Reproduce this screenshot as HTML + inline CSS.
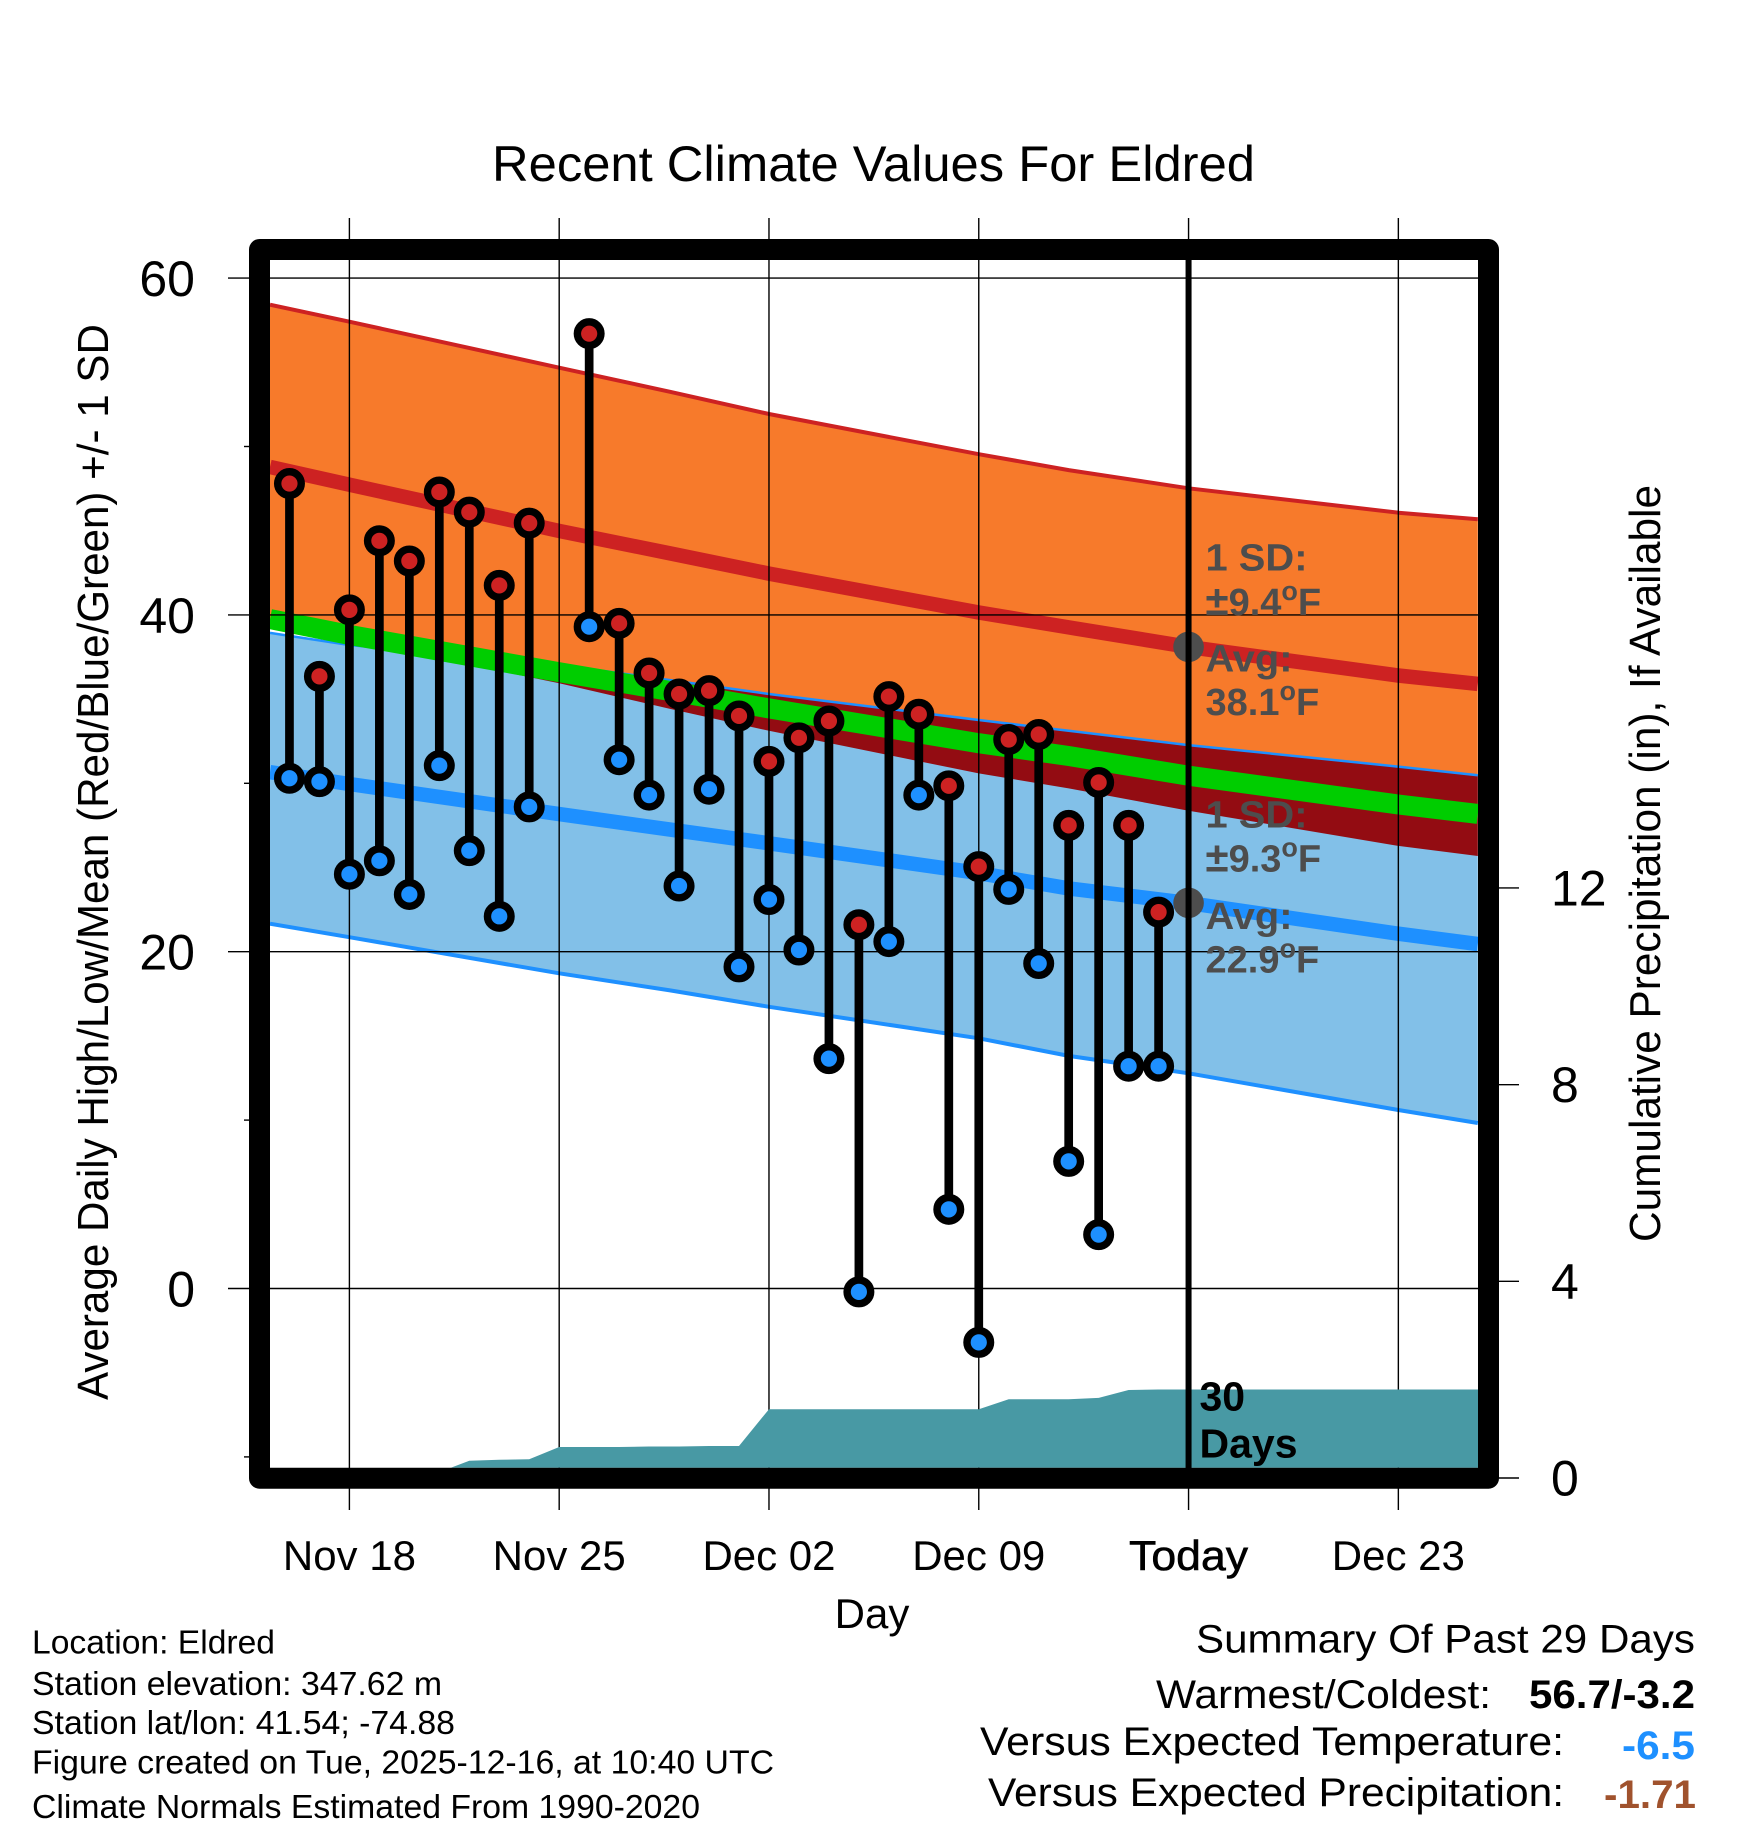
<!DOCTYPE html>
<html lang="en">
<head>
<meta charset="utf-8">
<title>Recent Climate Values For Eldred</title>
<style>
html,body{margin:0;padding:0;background:#fff;}
svg{display:block;font-family:"Liberation Sans",Arial,Helvetica,sans-serif;}
</style>
</head>
<body>
<svg id="chart" xmlns="http://www.w3.org/2000/svg" width="1748" height="1828" viewBox="0 0 1748 1828">
  <defs><clipPath id="plot-clip"><rect x="270" y="260" width="1208" height="1207.7"/></clipPath></defs>
  <rect x="0" y="0" width="1748" height="1828" fill="#fff"/>
  <g id="bands" clip-path="url(#plot-clip)"></g>
  <g id="grid"></g>
  <g id="precip" clip-path="url(#plot-clip)"></g>
  <g id="obs"></g>
  <g id="today"></g>

  <g font-weight="bold" font-size="38" fill="#4d4d4d">
    <text x="1205.5" y="570.7" textLength="102" lengthAdjust="spacingAndGlyphs">1 SD:</text>
    <text x="1205.5" y="615"><tspan font-size="42">±</tspan>9.4<tspan font-size="27" dy="-15">o</tspan><tspan dy="15">F</tspan></text>
    <text x="1205.5" y="671.7" textLength="87" lengthAdjust="spacingAndGlyphs">Avg:</text>
    <text x="1205.5" y="715">38.1<tspan font-size="27" dy="-15">o</tspan><tspan dy="15">F</tspan></text>
  </g>
  <g font-weight="bold" font-size="38" fill="#4d4d4d">
    <text x="1205.5" y="827.3" textLength="102" lengthAdjust="spacingAndGlyphs">1 SD:</text>
    <text x="1205.5" y="871.7"><tspan font-size="42">±</tspan>9.3<tspan font-size="27" dy="-15">o</tspan><tspan dy="15">F</tspan></text>
    <text x="1205.5" y="929" textLength="87" lengthAdjust="spacingAndGlyphs">Avg:</text>
    <text x="1205.5" y="972.3">22.9<tspan font-size="27" dy="-15">o</tspan><tspan dy="15">F</tspan></text>
  </g>
  <g font-weight="bold" font-size="41" fill="#000">
    <text x="1199.5" y="1410.7">30</text>
    <text x="1199.5" y="1457.7">Days</text>
  </g>

  <rect x="259.5" y="249.5" width="1229" height="1228.7" fill="none" stroke="#000" stroke-width="21" stroke-linejoin="round"/>

  <text x="873.5" y="181" font-size="50" text-anchor="middle" textLength="763" lengthAdjust="spacingAndGlyphs">Recent Climate Values For Eldred</text>
  <text transform="translate(108 862) rotate(-90)" font-size="44" text-anchor="middle" textLength="1076" lengthAdjust="spacingAndGlyphs">Average Daily High/Low/Mean (Red/Blue/Green) +/- 1 SD</text>
  <text transform="translate(1660 863.5) rotate(-90)" font-size="44" text-anchor="middle" textLength="757" lengthAdjust="spacingAndGlyphs">Cumulative Precipitation (in), If Available</text>
  <text x="872" y="1628" font-size="42" text-anchor="middle">Day</text>

  <g font-size="33">
    <text x="32" y="1653.5" textLength="243" lengthAdjust="spacingAndGlyphs">Location: Eldred</text>
    <text x="32" y="1695" textLength="410" lengthAdjust="spacingAndGlyphs">Station elevation: 347.62 m</text>
    <text x="32" y="1734" textLength="423" lengthAdjust="spacingAndGlyphs">Station lat/lon: 41.54; -74.88</text>
    <text x="32" y="1773.5" textLength="742" lengthAdjust="spacingAndGlyphs">Figure created on Tue, 2025-12-16, at 10:40 UTC</text>
    <text x="32" y="1818" textLength="668" lengthAdjust="spacingAndGlyphs">Climate Normals Estimated From 1990-2020</text>
  </g>

  <g font-size="40">
    <text x="1196" y="1652.5" textLength="499" lengthAdjust="spacingAndGlyphs">Summary Of Past 29 Days</text>
    <text x="1156" y="1708" textLength="335" lengthAdjust="spacingAndGlyphs">Warmest/Coldest:</text>
    <text x="1529" y="1708" font-weight="bold" textLength="166" lengthAdjust="spacingAndGlyphs">56.7/-3.2</text>
    <text x="980" y="1755" textLength="584" lengthAdjust="spacingAndGlyphs">Versus Expected Temperature:</text>
    <text x="1622" y="1759" font-weight="bold" fill="#1e90ff" textLength="73" lengthAdjust="spacingAndGlyphs">-6.5</text>
    <text x="988" y="1806" textLength="576" lengthAdjust="spacingAndGlyphs">Versus Expected Precipitation:</text>
    <text x="1604" y="1808" font-weight="bold" fill="#a0522d" textLength="92" lengthAdjust="spacingAndGlyphs">-1.71</text>
  </g>
</svg>

<script>
/* Climatology: days relative to Nov 18, values in deg F */
const normalDays = [-2.65, 0, 7, 10.7, 14, 21, 24, 28, 35, 37.65];
const highUpper = [58.42, 57.41, 54.68, 53.25, 51.93, 49.54, 48.60, 47.52, 46.07, 45.68];
const highMean  = [48.79, 47.73, 44.99, 43.65, 42.45, 40.14, 39.26, 38.10, 36.40, 35.90];
const highLower = [39.28, 38.51, 35.94, 34.42, 33.12, 30.59, 29.70, 28.37, 26.28, 25.68];
const lowUpper  = [38.93, 38.21, 37.03, 36.13, 35.30, 33.76, 33.12, 32.27, 30.99, 30.48];
const lowMean   = [30.66, 29.96, 28.17, 27.25, 26.44, 24.67, 23.76, 22.89, 21.07, 20.46];
const lowLower  = [21.66, 20.86, 18.72, 17.70, 16.73, 14.86, 13.81, 12.78, 10.60, 9.83];
const avgMean   = [39.75, 38.81, 36.60, 35.48, 34.45, 32.38, 31.62, 30.45, 28.74, 28.18];

/* Observations, one entry per day starting Nov 16 */
const obsDays = ['Nov 16','Nov 17','Nov 18','Nov 19','Nov 20','Nov 21','Nov 22','Nov 23','Nov 24','Nov 25','Nov 26','Nov 27','Nov 28','Nov 29','Nov 30','Dec 01','Dec 02','Dec 03','Dec 04','Dec 05','Dec 06','Dec 07','Dec 08','Dec 09','Dec 10','Dec 11','Dec 12','Dec 13','Dec 14','Dec 15'];
const obsHigh = [47.8,36.35,40.3,44.4,43.2,47.3,46.1,41.75,45.45,null,56.7,39.5,36.55,35.3,35.5,34.0,31.3,32.7,33.7,21.6,35.15,34.1,29.85,25.05,32.6,32.9,27.5,30.05,27.5,22.35];
const obsLow  = [30.3,30.1,24.6,25.4,23.4,31.05,26.0,22.1,28.6,null,39.3,31.4,29.3,23.9,29.65,19.1,23.1,20.1,13.65,-0.2,20.6,29.3,4.7,-3.2,23.7,19.3,7.55,3.2,13.2,13.2];
const obsPrecip = [0,0,0,0,0,0.12,0.35,0.37,0.38,0.63,0.63,0.63,0.64,0.64,0.65,0.65,1.40,1.40,1.40,1.40,1.40,1.40,1.40,1.40,1.60,1.60,1.60,1.63,1.79,1.80];

/* Axes */
const tempTicks = [60, 40, 20, 0];
const tempMinorTicks = [50, 30, 10, -10];
const precipTicks = [0, 4, 8, 12];
const xTickDays = [0, 7, 14, 21, 28, 35];
const xTickLabels = ['Nov 18', 'Nov 25', 'Dec 02', 'Dec 09', 'Today', 'Dec 23'];
const todayDay = 28;
const todayHigh = 38.1;
const todayLow = 22.9;

const SVGNS = 'http://www.w3.org/2000/svg';
function xDay(d) { return 349.4 + 29.97 * d; }
function yTemp(v) { return 1288.5 - 16.84 * v; }
function yPrecip(p) { return 1478 - 49.17 * p; }
function mk(tag, attrs, parent) {
  const n = document.createElementNS(SVGNS, tag);
  for (const k in attrs) n.setAttribute(k, attrs[k]);
  parent.appendChild(n);
  return n;
}
function linePts(vals) { return vals.map((v, i) => xDay(normalDays[i]).toFixed(1) + ',' + yTemp(v).toFixed(1)); }
function bandPts(up, lo) { return linePts(up).concat(linePts(lo).reverse()).join(' '); }

const bands = document.getElementById('bands');
const grid = document.getElementById('grid');
const precip = document.getElementById('precip');
const obs = document.getElementById('obs');
const today = document.getElementById('today');

/* Bands */
const highBand = mk('polygon', {points: bandPts(highUpper, highLower), fill: '#f77a2b'}, bands);



const lowBand = mk('polygon', {points: bandPts(lowUpper, lowLower), fill: '#82c0e8'}, bands);



/* Overlap of the two bands */
const overlapTop = [];
const overlapBottom = [];
normalDays.forEach((d, i) => {
  const diff = lowUpper[i] - highLower[i];
  if (diff > 0) {
    if (i > 0) {
      const prev = lowUpper[i - 1] - highLower[i - 1];
      if (prev <= 0) {
        const t = prev / (prev - diff);
        const cd = normalDays[i - 1] + t * (d - normalDays[i - 1]);
        const cv = highLower[i - 1] + t * (highLower[i] - highLower[i - 1]);
        overlapTop.push(xDay(cd).toFixed(1) + ',' + yTemp(cv).toFixed(1));
      }
    }
    overlapTop.push(xDay(d).toFixed(1) + ',' + yTemp(lowUpper[i]).toFixed(1));
    overlapBottom.push(xDay(d).toFixed(1) + ',' + yTemp(highLower[i]).toFixed(1));
  }
});
const overlap = mk('polygon', {points: overlapTop.concat(overlapBottom.reverse()).join(' '), fill: '#930c12'}, bands);



const highTopLine = mk('polyline', {points: linePts(highUpper).join(' '), fill: 'none', stroke: '#cd2222', 'stroke-width': 4}, bands);



const lowTopLine = mk('polyline', {points: linePts(lowUpper).join(' '), fill: 'none', stroke: '#1e90ff', 'stroke-width': 2.5}, bands);



const lowBottomLine = mk('polyline', {points: linePts(lowLower).join(' '), fill: 'none', stroke: '#1e90ff', 'stroke-width': 4}, bands);



const highMeanLine = mk('polyline', {points: linePts(highMean).join(' '), fill: 'none', stroke: '#cd2222', 'stroke-width': 14.5}, bands);



const lowMeanLine = mk('polyline', {points: linePts(lowMean).join(' '), fill: 'none', stroke: '#1e90ff', 'stroke-width': 14.5}, bands);



const avgMeanLine = mk('polyline', {points: linePts(avgMean).join(' '), fill: 'none', stroke: '#00cd00', 'stroke-width': 20}, bands);



/* Grid and ticks */
tempTicks.forEach(v => {
  const g = mk('line', {x1: 228, x2: 1478, y1: yTemp(v), y2: yTemp(v), stroke: '#000', 'stroke-width': 1.4}, grid);
  
  
  const t = mk('text', {x: 195, y: yTemp(v) + 18, 'font-size': 50, 'text-anchor': 'end'}, grid);
  
  
  t.textContent = v;
});
tempMinorTicks.forEach(v => {
  const m = mk('line', {x1: 244, x2: 250, y1: yTemp(v), y2: yTemp(v), stroke: '#000', 'stroke-width': 1.4}, grid);
  
  
});
xTickDays.forEach((d, i) => {
  const g = mk('line', {x1: xDay(d), x2: xDay(d), y1: 218, y2: 1510, stroke: '#000', 'stroke-width': 1.4}, grid);
  
  
  const t = mk('text', {x: xDay(d), y: 1570, 'font-size': 42, 'text-anchor': 'middle'}, grid);
  
  
  if (d === todayDay) {
    t.setAttribute('stroke', '#000');
    t.setAttribute('stroke-width', '0.6');
    t.setAttribute('textLength', '119');
    t.setAttribute('lengthAdjust', 'spacingAndGlyphs');
  }
  t.textContent = xTickLabels[i];
});
precipTicks.forEach(p => {
  const k = mk('line', {x1: 1499, x2: 1519, y1: yPrecip(p), y2: yPrecip(p), stroke: '#000', 'stroke-width': 1.4}, grid);
  
  
  const t = mk('text', {x: 1551, y: yPrecip(p) + 17.5, 'font-size': 50}, grid);
  
  
  t.textContent = p;
});

/* Cumulative precipitation */
const precipPts = obsPrecip.map((p, i) => xDay(i - 2).toFixed(1) + ',' + yPrecip(p).toFixed(1));
const lastPrecip = obsPrecip[obsPrecip.length - 1];
const endX = xDay(normalDays[normalDays.length - 1]) + 2;
precipPts.push(endX.toFixed(1) + ',' + yPrecip(lastPrecip).toFixed(1));
precipPts.push(endX.toFixed(1) + ',' + yPrecip(0).toFixed(1));
precipPts.push(xDay(-2).toFixed(1) + ',' + yPrecip(0).toFixed(1));
const precipArea = mk('polygon', {points: precipPts.join(' '), fill: '#4899a4'}, precip);



/* Daily stems and markers */
obsDays.forEach((label, i) => {
  if (obsHigh[i] === null || obsLow[i] === null) return;
  const cx = xDay(i - 2);
  const stem = mk('line', {x1: cx, x2: cx, y1: yTemp(obsHigh[i]), y2: yTemp(obsLow[i]), stroke: '#000', 'stroke-width': 8.7}, obs);
  
  
});
obsDays.forEach((label, i) => {
  if (obsHigh[i] === null || obsLow[i] === null) return;
  const cx = xDay(i - 2);
  const low = mk('circle', {cx: cx, cy: yTemp(obsLow[i]), r: 11.8, fill: '#1e90ff', stroke: '#000', 'stroke-width': 7.4}, obs);
  
  
  const high = mk('circle', {cx: cx, cy: yTemp(obsHigh[i]), r: 11.8, fill: '#cd2222', stroke: '#000', 'stroke-width': 7.4}, obs);
  
  
});

/* Today */
const todayDotHigh = mk('circle', {cx: xDay(todayDay), cy: yTemp(todayHigh), r: 15.3, fill: '#4d4d4d'}, today);


const todayDotLow = mk('circle', {cx: xDay(todayDay), cy: yTemp(todayLow), r: 15.3, fill: '#4d4d4d'}, today);


const todayLine = mk('line', {x1: xDay(todayDay), x2: xDay(todayDay), y1: 250, y2: 1478, stroke: '#000', 'stroke-width': 6}, today);


</script>
</body>
</html>
